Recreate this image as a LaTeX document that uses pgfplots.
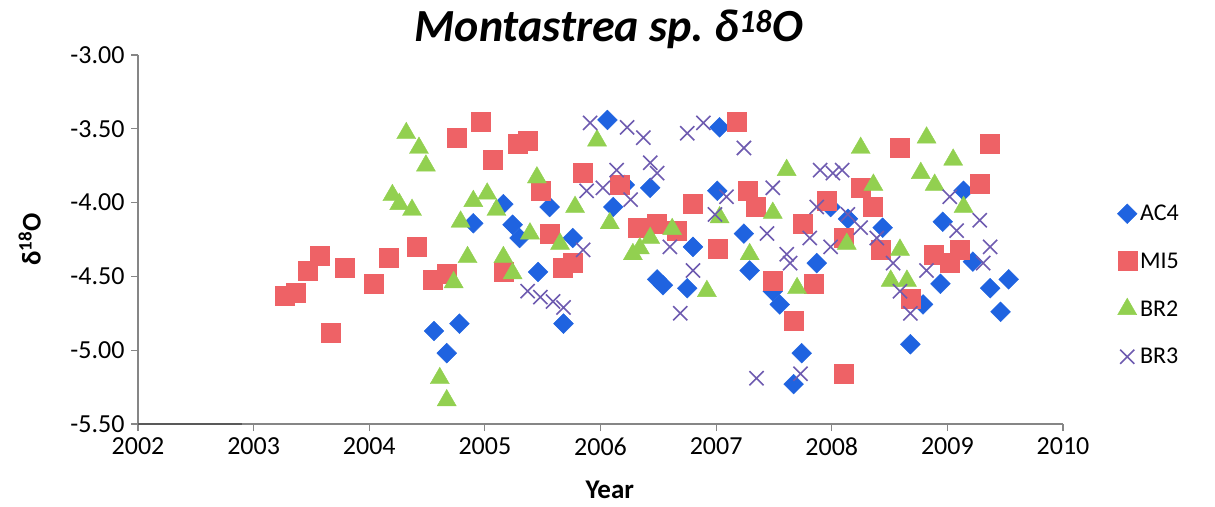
\documentclass[border=0pt]{standalone}
\usepackage{pgfplots}
\pgfplotsset{compat=1.18}
\usepackage{fontspec}
\setmainfont{Carlito}
\frenchspacing
\definecolor{acfour}{HTML}{1F63E0}
\definecolor{mifive}{HTML}{EE6266}
\definecolor{brtwo}{HTML}{92D050}
\definecolor{brthree}{HTML}{6E5BB0}
\definecolor{axisgray}{HTML}{868686}
\begin{document}
\begin{tikzpicture}
\useasboundingbox (0,0) rectangle (1215pt,506pt);
\begin{axis}[
  at={(138pt,82pt)}, anchor=south west,
  scale only axis, width=925pt, height=369pt,
  xmin=2002, xmax=2010, ymin=-5.5, ymax=-3,
  xtick={2002,2003,2004,2005,2006,2007,2008,2009,2010},
  ytick={-5.5,-5,-4.5,-4,-3.5,-3},
  axis x line*=bottom, axis y line*=left,
  axis line style={draw=axisgray, line width=1.2pt, -},
  tick style={draw=axisgray, line width=1.2pt},
  tick align=outside, major tick length=7pt,
  /pgf/number format/assume math mode=true,
  x tick label style={/pgf/number format/set thousands separator={}, font=\fontsize{26}{30}\selectfont, yshift=-3pt},
  y tick label style={/pgf/number format/.cd, fixed, fixed zerofill, precision=2, /tikz/.cd, font=\fontsize{26}{30}\selectfont, xshift=-3pt},
  title={Montastrea sp.\ δ\textsuperscript{18}O},
  title style={at={(axis description cs:0.509,1.054)}, anchor=center, font=\bfseries\itshape\fontsize{46}{50}\selectfont},
  xlabel={Year},
  every axis x label/.style={at={(axis description cs:0.51,-0.178)}, anchor=center, font=\bfseries\fontsize{27}{30}\selectfont},
  ylabel={δ\textsuperscript{18}O},
  every axis y label/.style={at={(axis description cs:-0.117,0.5)}, anchor=center, rotate=90, font=\bfseries\fontsize{27}{30}\selectfont},
  legend style={at={(axis description cs:1.0585,0.599)}, anchor=north west, draw=none, fill=none, font=\fontsize{24}{28}\selectfont, row sep=26.5pt, inner sep=0pt, nodes={inner xsep=3pt}},
  legend image post style={xshift=-10pt},
  legend cell align=left,
]
\addplot[forget plot, draw=black!65, line width=2pt] coordinates {(2002,-5.5) (2002.9,-5.5)};
% AC4
\addplot[only marks, mark=square*, mark size=7pt, mark options={rotate=45, fill=acfour, draw=acfour}] coordinates {
(2004.56,-4.87) (2004.78,-4.82) (2004.67,-5.02) (2004.90,-4.14) (2005.16,-4.01)
(2005.24,-4.15) (2005.30,-4.24) (2005.46,-4.47) (2005.56,-4.03) (2005.68,-4.82)
(2005.76,-4.24) (2006.06,-3.44) (2006.11,-4.03) (2006.21,-3.88) (2006.43,-3.90)
(2006.49,-4.52) (2006.54,-4.56) (2006.75,-4.58) (2006.80,-4.30) (2007.03,-3.49)
(2007.01,-3.92) (2007.24,-4.21) (2007.29,-4.46) (2007.49,-4.60) (2007.55,-4.69)
(2007.67,-5.23) (2007.74,-5.02) (2007.87,-4.41) (2007.99,-4.03) (2008.14,-4.11)
(2008.44,-4.17) (2008.79,-4.69) (2008.68,-4.96) (2008.94,-4.55) (2008.96,-4.13)
(2009.14,-3.92) (2009.22,-4.40) (2009.37,-4.58) (2009.53,-4.52) (2009.46,-4.74)
};
\addlegendentry{AC4}
% MI5
\addplot[only marks, mark=square*, mark size=9.5pt, mark options={fill=mifive, draw=mifive}] coordinates {
(2003.27,-4.63) (2003.36,-4.61) (2003.47,-4.46) (2003.57,-4.36) (2003.67,-4.88)
(2003.79,-4.44) (2004.04,-4.55) (2004.17,-4.37) (2004.41,-4.30) (2004.55,-4.52)
(2004.67,-4.48) (2004.76,-3.56) (2004.96,-3.45) (2005.07,-3.71) (2005.16,-4.47)
(2005.28,-3.60) (2005.37,-3.58) (2005.48,-3.92) (2005.56,-4.21) (2005.67,-4.44)
(2005.76,-4.41) (2005.85,-3.80) (2006.17,-3.88) (2006.32,-4.17) (2006.49,-4.14)
(2006.66,-4.19) (2006.80,-4.01) (2007.01,-4.31) (2007.18,-3.45) (2007.27,-3.92)
(2007.34,-4.03) (2007.49,-4.53) (2007.67,-4.80) (2007.75,-4.14) (2007.84,-4.55)
(2007.96,-3.99) (2008.10,-5.16) (2008.10,-4.24) (2008.25,-3.90) (2008.35,-4.03)
(2008.42,-4.32) (2008.59,-3.63) (2008.68,-4.65) (2008.88,-4.35) (2009.02,-4.41)
(2009.11,-4.32) (2009.28,-3.87) (2009.37,-3.60)
};
\addlegendentry{MI5}
% BR2
\addplot[only marks, mark=triangle*, mark size=11pt, mark options={fill=brtwo, draw=brtwo}] coordinates {
(2004.32,-3.53) (2004.43,-3.63) (2004.49,-3.75) (2004.20,-3.95) (2004.26,-4.01)
(2004.37,-4.05) (2004.61,-5.19) (2004.67,-5.34) (2004.73,-4.54) (2004.79,-4.13)
(2004.85,-4.37) (2004.90,-3.99) (2005.02,-3.94) (2005.10,-4.05) (2005.16,-4.37)
(2005.24,-4.48) (2005.39,-4.21) (2005.45,-3.83) (2005.65,-4.28) (2005.78,-4.03)
(2005.97,-3.58) (2006.08,-4.14) (2006.28,-4.35) (2006.34,-4.31) (2006.43,-4.24)
(2006.62,-4.18) (2006.92,-4.60) (2007.03,-4.10) (2007.29,-4.35) (2007.49,-4.07)
(2007.61,-3.78) (2007.70,-4.58) (2008.13,-4.28) (2008.25,-3.63) (2008.36,-3.88)
(2008.51,-4.53) (2008.59,-4.32) (2008.65,-4.53) (2008.77,-3.80) (2008.82,-3.56)
(2008.89,-3.88) (2009.05,-3.71) (2009.14,-4.03)
};
\addlegendentry{BR2}
% BR3
\addplot[only marks, mark=x, mark size=10pt, mark options={draw=brthree, line width=1.6pt}] coordinates {
(2005.37,-4.60) (2005.48,-4.64) (2005.59,-4.67) (2005.68,-4.71) (2005.85,-4.32)
(2005.88,-3.92) (2005.91,-3.46) (2006.02,-3.90) (2006.14,-3.78) (2006.23,-3.49)
(2006.26,-3.98) (2006.37,-3.56) (2006.43,-3.73) (2006.49,-3.80) (2006.60,-4.30)
(2006.69,-4.75) (2006.75,-3.53) (2006.80,-4.46) (2006.89,-3.46) (2006.99,-4.08)
(2007.09,-3.96) (2007.24,-3.63) (2007.35,-5.19) (2007.44,-4.21) (2007.49,-3.90)
(2007.61,-4.35) (2007.64,-4.41) (2007.73,-5.16) (2007.81,-4.24) (2007.87,-4.03)
(2007.90,-3.78) (2007.99,-4.30) (2008.01,-3.80) (2008.09,-3.78) (2008.14,-4.08)
(2008.25,-4.17) (2008.39,-4.24) (2008.53,-4.41) (2008.59,-4.60) (2008.68,-4.75)
(2008.82,-4.46) (2009.02,-3.96) (2009.08,-4.19) (2009.28,-4.12) (2009.31,-4.41)
(2009.37,-4.30)
};
\addlegendentry{BR3}
\end{axis}
\end{tikzpicture}
\end{document}
